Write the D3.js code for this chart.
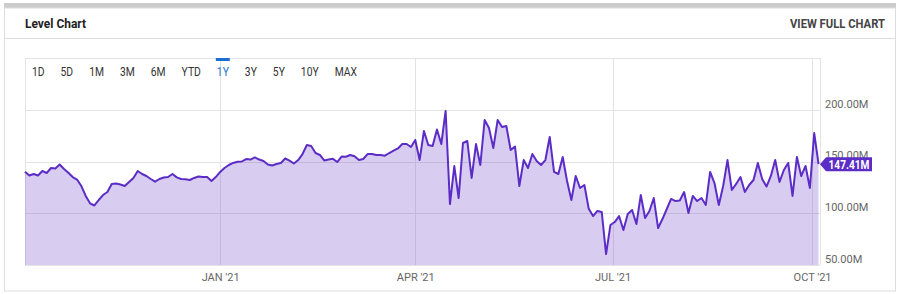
<!DOCTYPE html>
<html>
<head>
<meta charset="utf-8">
<script src="https://cdn.jsdelivr.net/npm/d3@7"></script>
<style>
  body { margin: 0; background: #fff; }
  svg { display: block; font-family: Roboto, "Liberation Sans", sans-serif; }
</style>
</head>
<body>
<svg id="chart" width="902" height="294"></svg>
<script>
// one value every 2 days, starting here (millions)
var startDate = "2020-10-03";
var stepDays = 2;
var levels = [
    140.1, 136.5, 137.9, 136.5, 140.8, 138.9, 143.7, 143.2, 147.1, 142.8,
    139.2, 135.0, 132.6, 126.3, 116.7, 109.6, 107.5, 112.8, 117.6, 120.5,
    128.3, 128.8, 127.8, 126.3, 130.2, 134.1, 140.8, 137.9, 136.0, 133.1,
    130.5, 133.1, 134.5, 135.0, 137.9, 134.7, 133.1, 132.9, 132.1, 134.1,
    135.5, 135.0, 135.0, 131.2, 135.0, 139.9, 143.7, 146.6, 148.6, 149.8,
    150.0, 152.4, 151.9, 153.9, 151.9, 150.5, 147.1, 146.1, 147.6, 148.6,
    152.9, 150.8, 148.1, 151.4, 157.2, 165.9, 165.0, 158.2, 156.3, 151.0,
    151.9, 152.7, 149.5, 154.8, 154.6, 156.3, 155.0, 151.4, 152.4, 157.2,
    157.2, 156.3, 156.3, 155.6, 158.2, 160.4, 162.6, 166.9, 166.9, 164.0,
    170.8, 151.4, 179.5, 165.9, 165.0, 180.9, 166.9, 198.8, 108.9, 145.6,
    114.7, 167.9, 169.8, 134.1, 166.9, 146.6, 190.1, 182.4, 163.0, 190.1,
    183.3, 184.3, 161.1, 164.5, 126.3, 151.4, 143.7, 157.2, 150.5, 146.6,
    151.4, 173.7, 139.9, 137.9, 154.3, 131.2, 112.8, 136.0, 124.4, 127.3,
    104.4, 97.3, 102.2, 101.2, 60.6, 88.6, 91.5, 97.3, 83.8, 99.3,
    103.1, 89.6, 117.6, 95.4, 102.2, 114.7, 85.7, 94.4, 104.1, 113.8,
    111.8, 112.3, 120.5, 100.2, 116.7, 111.8, 114.7, 108.0, 139.9, 129.2,
    108.0, 126.3, 151.4, 122.5, 128.3, 135.0, 120.5, 127.3, 132.1, 148.6,
    133.1, 125.8, 136.0, 151.4, 130.2, 141.8, 148.6, 116.7, 154.3, 136.0,
    145.7, 124.4, 177.5, 147.41
];
var rangeButtons = ["1D", "5D", "1M", "3M", "6M", "YTD", "1Y", "3Y", "5Y", "10Y", "MAX"];
var activeButton = "1Y";
var yTicks = [50, 100, 150, 200];
var xTicks = ["2021-01-01", "2021-04-01", "2021-07-01", "2021-10-01"];

var svg = d3.select("#chart");
var plot = {left: 25, right: 820, top: 58, bottom: 265};
var purple = "#5c2dc6";

var parse = d3.utcParse("%Y-%m-%d");
var t0 = parse(startDate);
var data = levels.map(function (v, i) {
    return {date: d3.utcDay.offset(t0, i * stepDays), value: v};
});

var x = d3.scaleUtc()
    .domain([t0, d3.utcHour.offset(t0, 366 * 24 + 16)])
    .range([plot.left, plot.right]);
var y = d3.scaleLinear()
    .domain([50, 250])
    .range([plot.bottom, plot.top]);

// card
svg.append("rect").attr("x", 4).attr("y", 3).attr("width", 892).attr("height", 5).attr("fill", "#cccccc");
svg.append("rect").attr("x", 4.5).attr("y", 8).attr("width", 891).attr("height", 283)
    .attr("fill", "none").attr("stroke", "#dddddd");
svg.append("line").attr("x1", 4).attr("x2", 896).attr("y1", 38.5).attr("y2", 38.5).attr("stroke", "#dddddd");

svg.append("text").attr("x", 25).attr("y", 28)
    .attr("font-size", 13).attr("font-weight", 700).attr("fill", "#222")
    .attr("textLength", 61).attr("lengthAdjust", "spacingAndGlyphs")
    .text("Level Chart");
svg.append("text").attr("x", 885).attr("y", 28).attr("text-anchor", "end")
    .attr("font-size", 13).attr("font-weight", 700).attr("fill", "#444")
    .attr("textLength", 95).attr("lengthAdjust", "spacingAndGlyphs")
    .text("VIEW FULL CHART");

// plot frame
var frame = svg.append("g").attr("stroke", "#e3e3e3").attr("fill", "none");
frame.append("line").attr("x1", plot.left).attr("x2", plot.right).attr("y1", plot.top + 0.5).attr("y2", plot.top + 0.5);
frame.append("line").attr("x1", plot.left + 0.5).attr("x2", plot.left + 0.5).attr("y1", plot.top).attr("y2", plot.bottom);
frame.append("line").attr("x1", plot.right + 0.5).attr("x2", plot.right + 0.5).attr("y1", plot.top).attr("y2", plot.bottom);

// grid
var grid = svg.append("g").attr("stroke", "#e3e3e3");
grid.selectAll("line.h").data(yTicks).enter().append("line")
    .attr("x1", plot.left).attr("x2", plot.right)
    .attr("y1", function (d) { return Math.round(y(d)) + 0.5; })
    .attr("y2", function (d) { return Math.round(y(d)) + 0.5; });
grid.selectAll("line.v").data(xTicks).enter().append("line")
    .attr("y1", plot.top).attr("y2", plot.bottom)
    .attr("x1", function (d) { return Math.round(x(parse(d))) + 0.5; })
    .attr("x2", function (d) { return Math.round(x(parse(d))) + 0.5; });

// area + line
var area = d3.area()
    .x(function (d) { return x(d.date); })
    .y0(plot.bottom)
    .y1(function (d) { return y(d.value); });
var line = d3.line()
    .x(function (d) { return x(d.date); })
    .y(function (d) { return y(d.value); });

svg.append("path").datum(data).attr("d", area)
    .attr("fill", "#6236c8").attr("fill-opacity", 0.25);
svg.append("path").datum(data).attr("d", line)
    .attr("fill", "none").attr("stroke", purple).attr("stroke-width", 2)
    .attr("stroke-linejoin", "round");

// axes
var yAxis = svg.append("g")
    .attr("transform", "translate(" + plot.right + ",0)")
    .call(d3.axisRight(y).tickValues(yTicks).tickSize(0).tickPadding(5)
        .tickFormat(function (d) { return d3.format(".2f")(d) + "M"; }));
yAxis.select(".domain").remove();
yAxis.selectAll("text").attr("dy", "-0.23em").attr("fill", "#666")
    .attr("font-size", 11).attr("font-family", "Roboto, sans-serif");

var xFmt = d3.utcFormat("%b '%y");
var xAxis = svg.append("g")
    .attr("transform", "translate(0," + plot.bottom + ")")
    .call(d3.axisBottom(x).tickValues(xTicks.map(parse)).tickSize(0).tickPadding(8)
        .tickFormat(function (d) { return xFmt(d).toUpperCase(); }));
xAxis.select(".domain").remove();
xAxis.selectAll("text").attr("fill", "#666")
    .attr("font-size", 11).attr("font-family", "Roboto, sans-serif");

// range buttons
var bx = 32;
var buttons = svg.append("g");
rangeButtons.forEach(function (b) {
    var t = buttons.append("text").attr("x", bx).attr("y", 76)
        .attr("font-size", 12).attr("fill", b === activeButton ? "#1a6fd1" : "#333")
        .text(b);
    var w = t.node().getComputedTextLength() * 0.86;
    t.attr("textLength", w).attr("lengthAdjust", "spacingAndGlyphs");
    if (b === activeButton) {
        buttons.append("rect").attr("x", bx - 1).attr("y", 58).attr("width", w + 2).attr("height", 3)
            .attr("fill", "#1a6fd1");
    }
    bx += w + 16;
});

// last value flag
var last = data[data.length - 1];
var flag = svg.append("g")
    .attr("transform", "translate(" + plot.right + "," + y(last.value) + ")");
flag.append("path").attr("d", "M0,0L6,-7L52,-7L52,7L6,7Z").attr("fill", purple);
flag.append("text").attr("x", 29).attr("y", 4.5).attr("text-anchor", "middle")
    .attr("font-size", 12).attr("font-weight", 700).attr("fill", "#fff")
    .attr("textLength", 41).attr("lengthAdjust", "spacingAndGlyphs")
    .text(d3.format(".2f")(last.value) + "M");
</script>
</body>
</html>
